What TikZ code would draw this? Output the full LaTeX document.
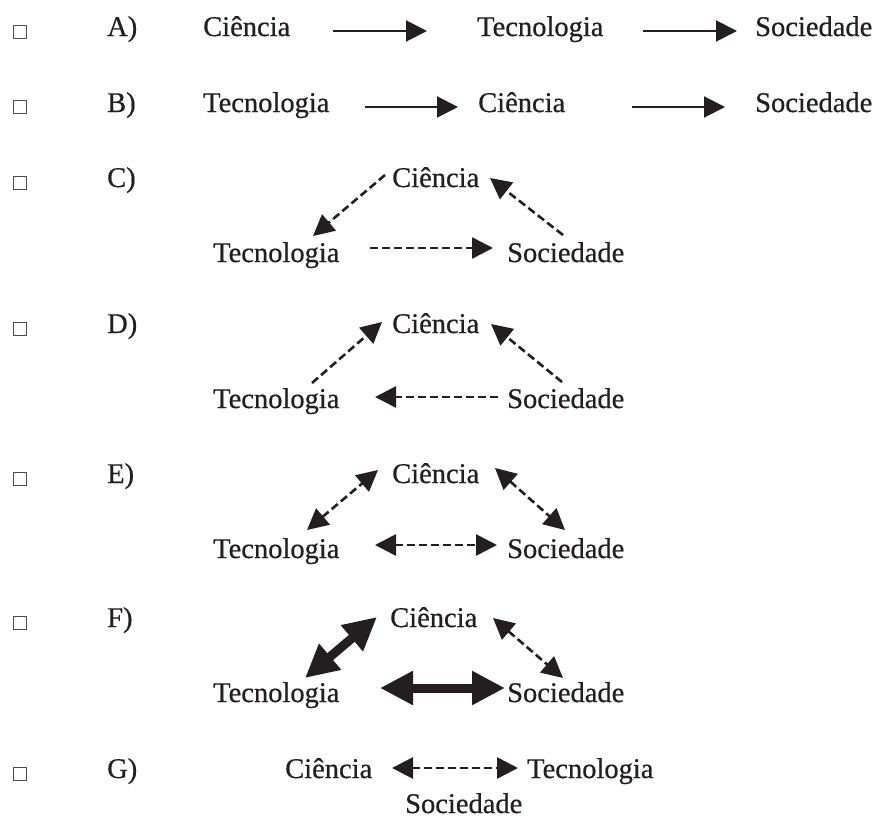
\documentclass[tikz,border=0pt]{standalone}
\usepackage{fontspec}
\setmainfont{Liberation Serif}[RawFeature={embolden=0.6}]
\usetikzlibrary{arrows.meta}
\definecolor{ink}{RGB}{35,31,32}
\begin{document}
\begin{tikzpicture}[x=1pt,y=-1pt,
  lbl/.style={anchor=base west, inner sep=0pt, font=\fontsize{28.5}{30}\selectfont, text=ink},
  chk/.style={draw=ink!80, line width=0.9pt, minimum size=13pt, inner sep=0pt},
  solidarr/.style={draw=ink, line width=2pt, -{Triangle[length=21pt,width=21pt]}},
  dasharr/.style={draw=ink, line width=2.6pt, dash pattern=on 8pt off 4pt, -{Triangle[length=21pt,width=21pt]}},
  dashboth/.style={draw=ink, line width=2.6pt, dash pattern=on 8pt off 4pt, {Triangle[length=21pt,width=21pt]}-{Triangle[length=21pt,width=21pt]}},
  thickboth/.style={draw=ink, line width=9pt, {Triangle[length=33pt,width=32pt]}-{Triangle[length=33pt,width=32pt]}}
]
\useasboundingbox (0,0) rectangle (878,819);

% ---------- A ----------
\node[chk] (boxA) at (19.5,32) {};
\node[lbl] (labA) at (107,36) {A)};
\node[lbl] (Ca) at (203,36) {Ciência};
\node[lbl] (Ta) at (477,36) {Tecnologia};
\node[lbl] (Sa) at (755,36) {Sociedade};
\coordinate (a1s) at (333,31); \coordinate (a1e) at (427,31);
\coordinate (a2s) at (643,31); \coordinate (a2e) at (737,31);
\draw[solidarr] (a1s) -- (a1e);
\draw[solidarr] (a2s) -- (a2e);

% ---------- B ----------
\node[chk] (boxB) at (19.5,107) {};
\node[lbl] (labB) at (107,112) {B)};
\node[lbl] (Tb) at (203,112) {Tecnologia};
\node[lbl] (Cb) at (478,112) {Ciência};
\node[lbl] (Sb) at (755,112) {Sociedade};
\coordinate (b1s) at (365,107); \coordinate (b1e) at (458,107);
\coordinate (b2s) at (632,107); \coordinate (b2e) at (725,107);
\draw[solidarr] (b1s) -- (b1e);
\draw[solidarr] (b2s) -- (b2e);

% ---------- C ----------
\node[chk] (boxC) at (19.5,182.5) {};
\node[lbl] (labC) at (107,187) {C)};
\node[lbl] (Cc) at (392,187) {Ciência};
\node[lbl] (Tc) at (213,262) {Tecnologia};
\node[lbl] (Sc) at (507,262) {Sociedade};
\coordinate (c1s) at (385,175); \coordinate (c1e) at (313,236);
\coordinate (c2s) at (563,235); \coordinate (c2e) at (490,178);
\coordinate (c3s) at (370,248); \coordinate (c3e) at (493,248);
\draw[dasharr] (c1s) -- (c1e);
\draw[dasharr] (c2s) -- (c2e);
\draw[dasharr] (c3s) -- (c3e);

% ---------- D ----------
\node[chk] (boxD) at (19.5,328.5) {};
\node[lbl] (labD) at (107,333) {D)};
\node[lbl] (Cd) at (392,333) {Ciência};
\node[lbl] (Td) at (213,408) {Tecnologia};
\node[lbl] (Sd) at (507,408) {Sociedade};
\coordinate (d1s) at (312,383); \coordinate (d1e) at (382,322);
\coordinate (d2s) at (562,382); \coordinate (d2e) at (491,324);
\coordinate (d3s) at (498,397); \coordinate (d3e) at (375,397);
\draw[dasharr] (d1s) -- (d1e);
\draw[dasharr] (d2s) -- (d2e);
\draw[dasharr] (d3s) -- (d3e);

% ---------- E ----------
\node[chk] (boxE) at (19.5,478.5) {};
\node[lbl] (labE) at (107,483) {E)};
\node[lbl] (Ce) at (392,483) {Ciência};
\node[lbl] (Te) at (213,558) {Tecnologia};
\node[lbl] (Se) at (507,558) {Sociedade};
\coordinate (e1s) at (307,530); \coordinate (e1e) at (378,470);
\coordinate (e2s) at (495,468); \coordinate (e2e) at (565,530);
\coordinate (e3s) at (375,545); \coordinate (e3e) at (497,545);
\draw[dashboth] (e1s) -- (e1e);
\draw[dashboth] (e2s) -- (e2e);
\draw[dashboth] (e3s) -- (e3e);

% ---------- F ----------
\node[chk] (boxF) at (19.5,622.5) {};
\node[lbl] (labF) at (107,627) {F)};
\node[lbl] (Cf) at (390,627) {Ciência};
\node[lbl] (Tf) at (213,702) {Tecnologia};
\node[lbl] (Sf) at (507,702) {Sociedade};
\coordinate (f1s) at (305,678); \coordinate (f1e) at (377,617);
\coordinate (f2s) at (493,618); \coordinate (f2e) at (563,678);
\coordinate (f3s) at (380,688); \coordinate (f3e) at (505,688);
\draw[thickboth] (f1s) -- (f1e);
\draw[dashboth] (f2s) -- (f2e);
\draw[thickboth] (f3s) -- (f3e);

% ---------- G ----------
\node[chk] (boxG) at (19.5,773.5) {};
\node[lbl] (labG) at (107,778) {G)};
\node[lbl] (Cg) at (285,778) {Ciência};
\node[lbl] (Tg) at (527,778) {Tecnologia};
\node[lbl] (Sg) at (405,813) {Sociedade};
\coordinate (g1s) at (392,768); \coordinate (g1e) at (518,768);
\draw[dashboth] (g1s) -- (g1e);
\end{tikzpicture}
\end{document}
